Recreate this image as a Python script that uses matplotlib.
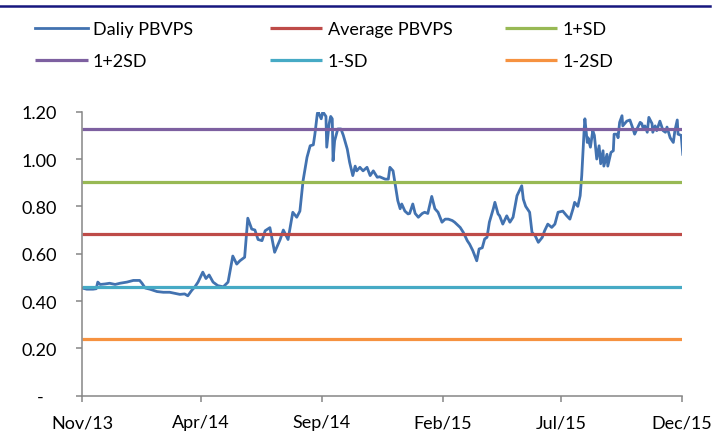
import numpy as np
import pandas as pd
import matplotlib
matplotlib.use("Agg")
from matplotlib import pyplot as plt
from matplotlib.lines import Line2D
import matplotlib.dates as mdates

plt.rcParams['font.family'] = ['Lato', 'DejaVu Sans']

# daily PB/VPS (days after 1 Nov 2013, value)
start = pd.Timestamp('2013-11-01')
days = [0, 6, 14, 18, 20, 23, 29, 35, 42, 48, 57, 65, 73, 76, 80, 86, 95, 103,
        111, 118, 124, 130, 134, 139, 143, 147, 153, 157, 161, 166, 172, 179,
        185, 191, 196, 200, 206, 210, 215, 219, 223, 228, 232, 238, 244, 251,
        255, 261, 267, 272, 276, 280, 285, 289, 293, 295, 298, 299, 303, 305,
        309, 310, 313, 315, 317, 318, 320, 324, 328, 331, 336, 339, 343, 346,
        348, 352, 356, 361, 365, 369, 374, 377, 384, 388, 390, 394, 396, 400,
        403, 405, 409, 413, 415, 419, 422, 426, 431, 434, 438, 443, 447, 451,
        456, 460, 464, 469, 472, 479, 483, 488, 491, 495, 500, 503, 507, 510,
        513, 516, 521, 523, 527, 529, 533, 538, 542, 546, 551, 555, 557, 559,
        562, 567, 570, 574, 578, 583, 586, 590, 595, 599, 603, 609, 614, 618,
        622, 624, 628, 631, 633, 636, 637, 640, 641, 644, 647, 649, 652, 655,
        657, 660, 661, 665, 666, 670, 673, 674, 678, 679, 681, 684, 685, 690,
        694, 698, 700, 703, 707, 709, 711, 713, 716, 718, 722, 723, 726, 728,
        732, 736, 739, 741, 745, 749, 751, 754, 755, 759, 761]
pbvps = [0.455, 0.45, 0.45, 0.452, 0.48, 0.47, 0.472, 0.475, 0.47, 0.475,
         0.48, 0.487, 0.487, 0.475, 0.455, 0.45, 0.44, 0.437, 0.437, 0.432,
         0.428, 0.43, 0.422, 0.445, 0.46, 0.48, 0.522, 0.495, 0.51, 0.48,
         0.465, 0.46, 0.48, 0.59, 0.556, 0.57, 0.585, 0.75, 0.704, 0.70, 0.66,
         0.655, 0.697, 0.71, 0.606, 0.66, 0.70, 0.66, 0.775, 0.754, 0.78,
         0.908, 1.007, 1.056, 1.06, 1.105, 1.19, 1.2, 1.17, 1.2, 1.18, 1.05,
         1.148, 1.18, 1.17, 0.993, 1.077, 1.127, 1.127, 1.10, 1.042, 0.986,
         0.93, 0.97, 0.95, 0.965, 0.95, 0.965, 0.93, 0.95, 0.923, 0.925,
         0.915, 0.915, 0.965, 0.95, 0.908, 0.824, 0.79, 0.81, 0.78, 0.768,
         0.77, 0.81, 0.77, 0.754, 0.77, 0.775, 0.77, 0.842, 0.79, 0.775,
         0.733, 0.746, 0.746, 0.74, 0.733, 0.711, 0.69, 0.655, 0.64, 0.613,
         0.57, 0.62, 0.625, 0.662, 0.669, 0.733, 0.79, 0.817, 0.768, 0.76,
         0.725, 0.76, 0.733, 0.754, 0.845, 0.873, 0.887, 0.83, 0.80, 0.775,
         0.69, 0.676, 0.648, 0.669, 0.697, 0.725, 0.711, 0.725, 0.775, 0.78,
         0.76, 0.746, 0.79, 0.817, 0.80, 0.845, 0.93, 1.12, 1.17, 1.07, 1.09,
         1.05, 1.12, 1.10, 1.0, 1.056, 0.98, 1.035, 0.97, 1.02, 0.97, 1.028,
         1.035, 1.105, 1.105, 1.09, 1.155, 1.183, 1.14, 1.16, 1.165, 1.127,
         1.105, 1.127, 1.155, 1.15, 1.127, 1.14, 1.113, 1.176, 1.15, 1.113,
         1.14, 1.12, 1.16, 1.12, 1.113, 1.135, 1.09, 1.07, 1.12, 1.165,
         1.105, 1.10, 1.02]

avg_pbvps = 0.683
sd_pbvps = 0.222

band_labels = ['Average PBVPS', '1+SD', '1+2SD', '1-SD', '1-2SD']
band_values = [avg_pbvps, avg_pbvps + sd_pbvps, avg_pbvps + 2 * sd_pbvps,
               avg_pbvps - sd_pbvps, avg_pbvps - 2 * sd_pbvps]
band_colors = ['#BE4B48', '#98B954', '#7D60A0', '#46AAC5', '#F69240']

tick_dates = ['2013-11-01', '2014-04-01', '2014-09-01', '2015-02-01',
              '2015-07-01', '2015-12-01']
tick_names = ['Nov/13', 'Apr/14', 'Sep/14', 'Feb/15', 'Jul/15', 'Dec/15']
y_ticks = [0, 0.2, 0.4, 0.6, 0.8, 1.0, 1.2]
y_names = ['-   ', '0.20', '0.40', '0.60', '0.80', '1.00', '1.20']

dates = start + pd.to_timedelta(days, unit='D')

fig = plt.figure(figsize=(7.27, 4.39), dpi=100)
ax = fig.add_axes([0.1128, 0.0964, 0.8253, 0.6469])

daily, = ax.plot(dates, pbvps, color='#4272B0', lw=2.0, label='Daliy PBVPS')
x0 = pd.Timestamp(tick_dates[0])
x1 = pd.Timestamp(tick_dates[-1])
handles = {}
for name, val, col in zip(band_labels, band_values, band_colors):
    handles[name], = ax.plot([x0, x1], [val, val], color=col, lw=2.3,
                             label=name, solid_capstyle='butt')

ax.set_xlim(x0, x1)
ax.set_ylim(0, 1.2)
ax.set_xticks(pd.to_datetime(tick_dates))
ax.set_xticklabels(tick_names)
ax.set_yticks(y_ticks)
ax.set_yticklabels(y_names)

grey = '#868686'
for s in ['top', 'right']:
    ax.spines[s].set_visible(False)
for s in ['left', 'bottom']:
    ax.spines[s].set_color(grey)
    ax.spines[s].set_linewidth(1.1)
ax.tick_params(axis='both', colors=grey, labelcolor='black', labelsize=13,
               length=4.3, width=1.1, direction='out')
ax.tick_params(axis='y', pad=13.5)
ax.tick_params(axis='x', pad=9)

# legend, three columns of two
cols = [[daily, handles['1+2SD']],
        [handles['Average PBVPS'], handles['1-SD']],
        [handles['1+SD'], handles['1-2SD']]]
for i, hs in enumerate(cols):
    fig.legend(handles=hs, labels=[h.get_label() for h in hs],
               loc='upper left', bbox_to_anchor=(0.026 + i * 0.3232, 0.986),
               frameon=False, fontsize=13, handlelength=2.9,
               handletextpad=0.28, labelspacing=0.88, borderpad=0.4)

fig.add_artist(Line2D([0, 0.977], [1 - 6.5 / 439, 1 - 6.5 / 439],
                      color='#16167E', lw=1.8, transform=fig.transFigure))

fig.savefig('out.png', dpi=100)
